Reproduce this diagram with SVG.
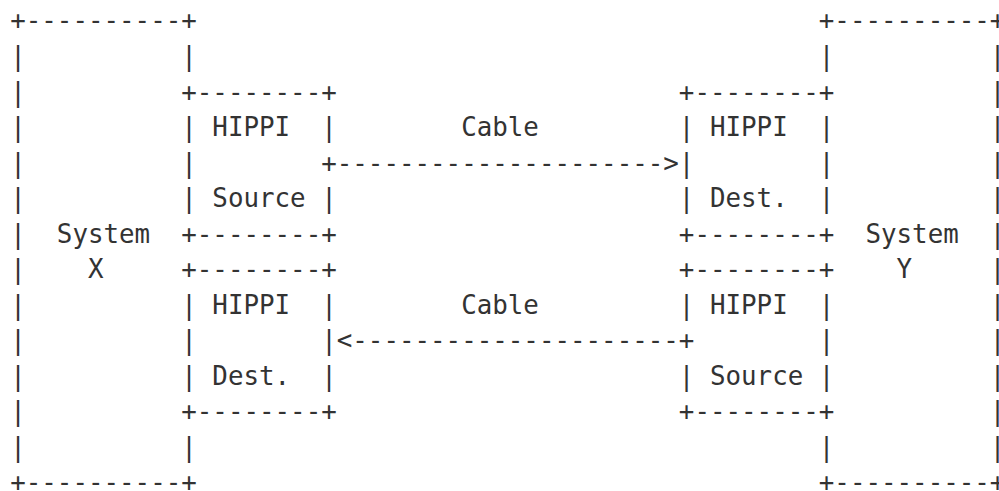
<svg xmlns="http://www.w3.org/2000/svg" width="999" height="491" viewBox="0 0 999 491" xml:space="preserve">
<style>
text { font-family: "DejaVu Sans Mono", "Liberation Mono", monospace; font-size: 25.83px; fill: #333333; white-space: pre; }
</style>
<rect width="999" height="491" fill="#ffffff"/>
<g id="system-x">
<text x="10.2" y="29.4">+----------+</text>
<text x="10.2" y="64.9">|          |</text>
<text x="10.2" y="100.5">|</text>
<text x="10.2" y="136.0">|</text>
<text x="10.2" y="171.6">|</text>
<text x="10.2" y="207.1">|</text>
<text x="10.2" y="242.6">|  System</text>
<text x="10.2" y="278.2">|    X</text>
<text x="10.2" y="313.7">|</text>
<text x="10.2" y="349.3">|</text>
<text x="10.2" y="384.8">|</text>
<text x="10.2" y="420.3">|</text>
<text x="10.2" y="455.9">|          |</text>
<text x="10.2" y="491.4">+----------+</text>
</g>
<g id="hippi-source-x">
<text x="181.25" y="100.5">+--------+</text>
<text x="181.25" y="136.0">| HIPPI  |</text>
<text x="181.25" y="171.6">|</text>
<text x="181.25" y="207.1">| Source |</text>
<text x="181.25" y="242.6">+--------+</text>
</g>
<g id="hippi-dest-x">
<text x="181.25" y="278.2">+--------+</text>
<text x="181.25" y="313.7">| HIPPI  |</text>
<text x="181.25" y="349.3">|        |</text>
<text x="181.25" y="384.8">| Dest.  |</text>
<text x="181.25" y="420.3">+--------+</text>
</g>
<g id="hippi-dest-y">
<text x="678.85" y="100.5">+--------+</text>
<text x="678.85" y="136.0">| HIPPI  |</text>
<text x="678.85" y="171.6">|        |</text>
<text x="678.85" y="207.1">| Dest.  |</text>
<text x="678.85" y="242.6">+--------+</text>
</g>
<g id="hippi-source-y">
<text x="678.85" y="278.2">+--------+</text>
<text x="678.85" y="313.7">| HIPPI  |</text>
<text x="818.8" y="349.3">|</text>
<text x="678.85" y="384.8">| Source |</text>
<text x="678.85" y="420.3">+--------+</text>
</g>
<g id="system-y">
<text x="818.8" y="29.4">+----------+</text>
<text x="818.8" y="64.9">|          |</text>
<text x="989.85" y="100.5">|</text>
<text x="989.85" y="136.0">|</text>
<text x="989.85" y="171.6">|</text>
<text x="989.85" y="207.1">|</text>
<text x="865.45" y="242.6">System  |</text>
<text x="896.55" y="278.2">Y     |</text>
<text x="989.85" y="313.7">|</text>
<text x="989.85" y="349.3">|</text>
<text x="989.85" y="384.8">|</text>
<text x="989.85" y="420.3">|</text>
<text x="818.8" y="455.9">|          |</text>
<text x="818.8" y="491.4">+----------+</text>
</g>
<g id="connectors">
<text x="461.15" y="136.0">Cable</text>
<text x="321.2" y="171.6">+---------------------&gt;</text>
<text x="461.15" y="313.7">Cable</text>
<text x="336.75" y="349.3">&lt;---------------------+</text>
</g>
</svg>
